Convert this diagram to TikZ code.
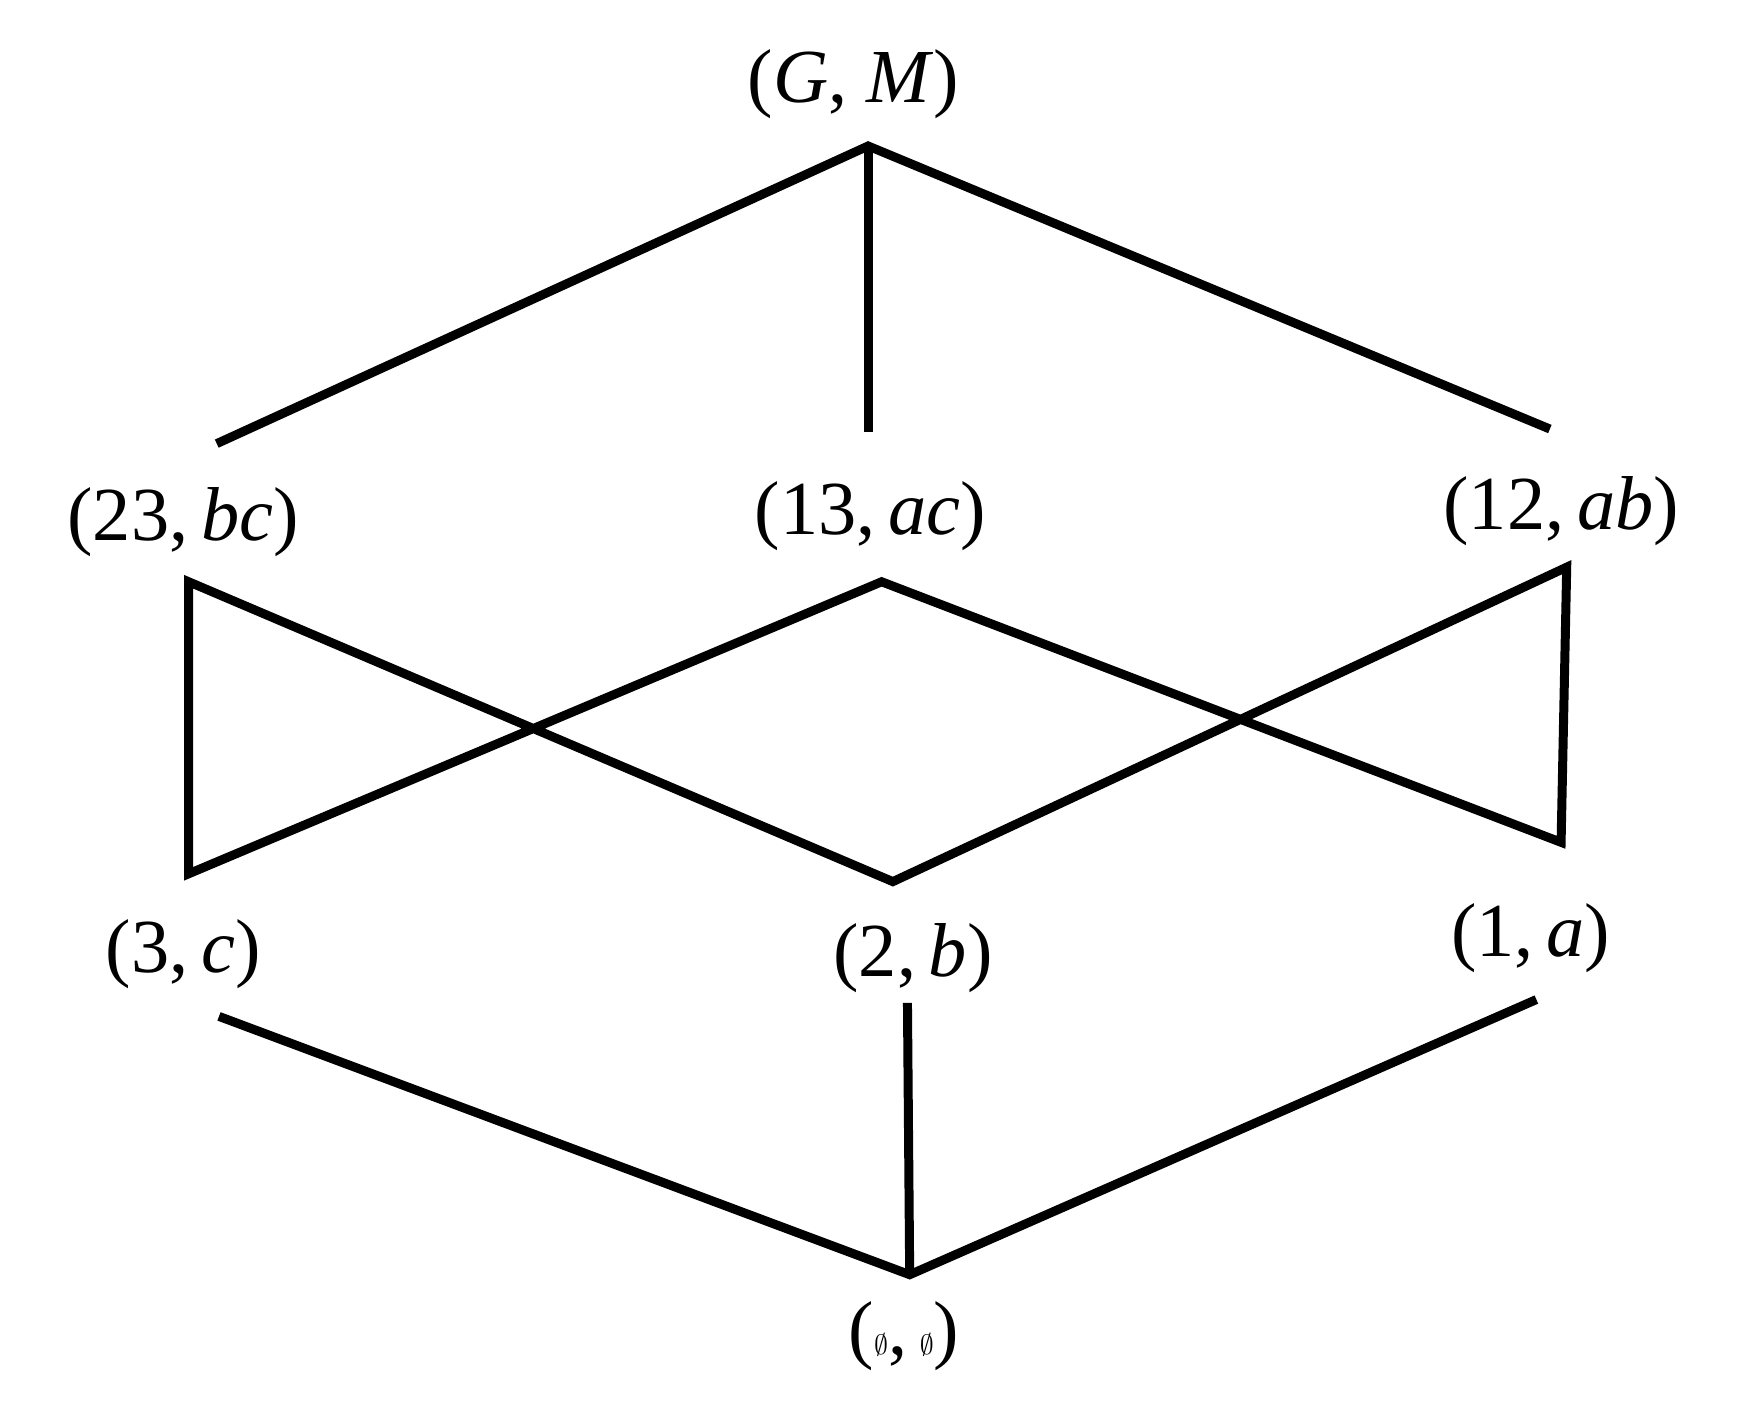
\documentclass[tikz,border=0pt]{standalone}
\usepackage{fontspec}
\setmainfont{Liberation Serif}
\begin{document}
\begin{tikzpicture}[x=1pt,y=-1pt,
  edge/.style={line width=8pt,line cap=butt,line join=miter},
  lbl/.style={font=\fontsize{68}{80}\selectfont,inner sep=0pt}]
\useasboundingbox (0,0) rectangle (1560,1258);
\node[lbl] (GM) at (760,75) {(\textit{G}, \textit{M})};
\node[lbl] (bc) at (163,465) {(23,\,\textit{bc})};
\node[lbl] (ac) at (775,460) {(13,\,\textit{ac})};
\node[lbl] (ab) at (1390,455) {(12,\,\textit{ab})};
\node[lbl] (c) at (163,850) {(3,\,\textit{c})};
\node[lbl] (b) at (813,853) {(2,\,\textit{b})};
\node[lbl] (a) at (1363,835) {(1,\,\textit{a})};
\node[lbl] (e) at (805,1190) {($\emptyset$,\,$\emptyset$)};
\coordinate (t) at (773,130);
\coordinate (t1) at (193,395);
\coordinate (t2) at (773,385);
\coordinate (t3) at (1380,382);
\coordinate (m1) at (168,518);
\coordinate (m2) at (785,518);
\coordinate (m3) at (1395,505);
\coordinate (l1) at (168,778);
\coordinate (l2) at (795,785);
\coordinate (l3) at (1390,750);
\coordinate (d1) at (195,905);
\coordinate (d2) at (808,893);
\coordinate (d3) at (1368,890);
\coordinate (z) at (810,1135);
\draw[edge] (t1) -- (t) -- (t3);
\draw[edge] (t) -- (t2);
\draw[edge] (m1) -- (l1) -- (m2) -- (l3) -- (m3) -- (l2) -- cycle;
\draw[edge] (d1) -- (z) -- (d3);
\draw[edge] (d2) -- (z);
\end{tikzpicture}
\end{document}
